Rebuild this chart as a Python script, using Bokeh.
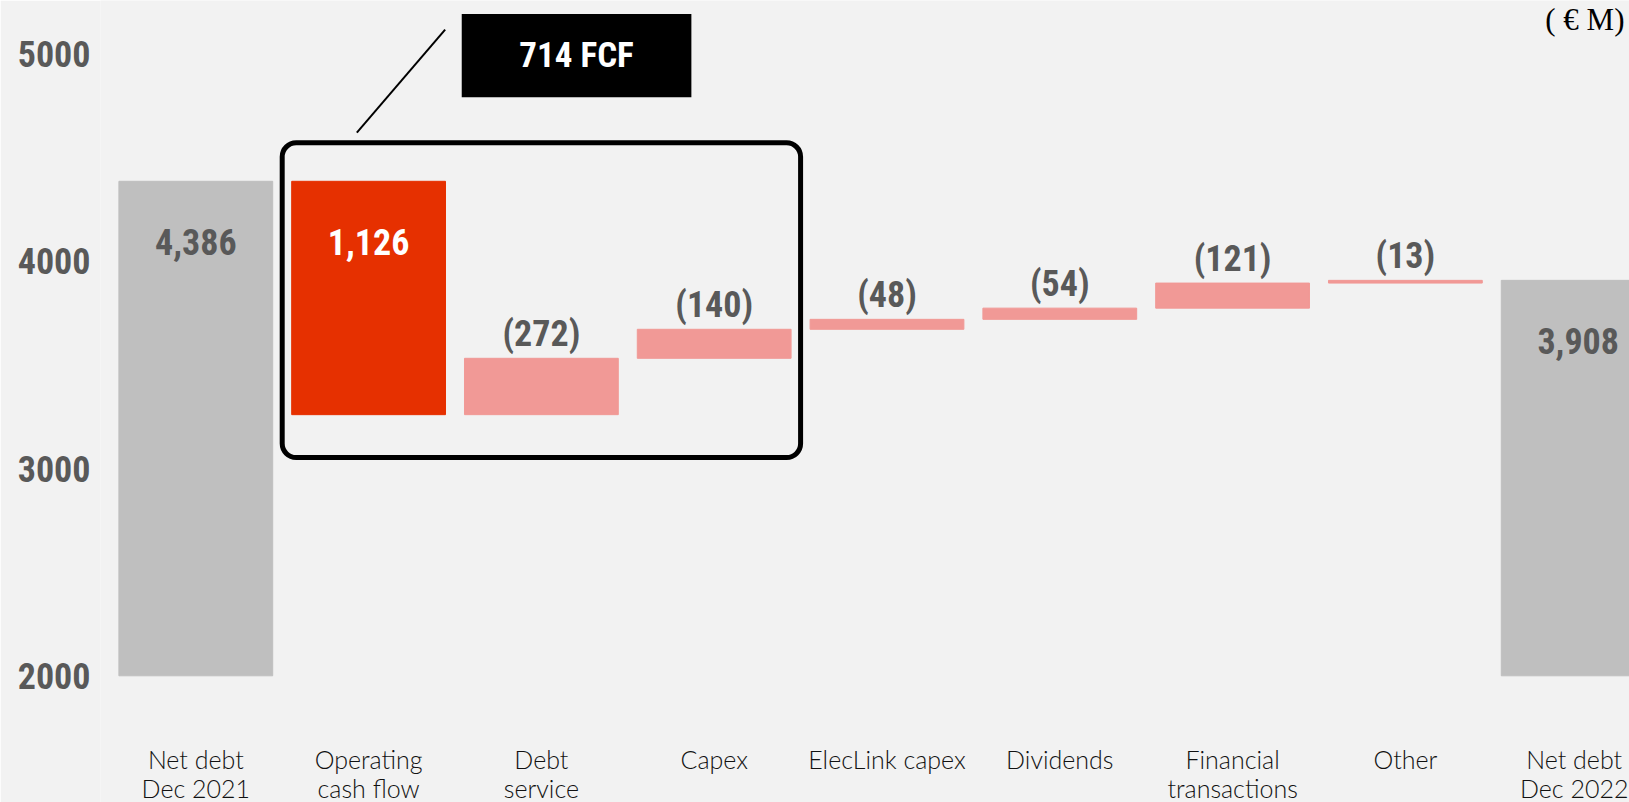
from bokeh.plotting import figure
from bokeh.models import Range1d, FixedTicker, BoxAnnotation, ColumnDataSource
from bokeh.core.properties import value
from bokeh.embed import file_html
from bokeh.resources import INLINE

# ---- data ----
categories = ["Net debt\nDec 2021", "Operating\ncash flow", "Debt\nservice", "Capex",
              "ElecLink capex", "Dividends", "Financial\ntransactions", "Other",
              "Net debt\nDec 2022"]
start_value = 4386
changes = [-1126, 272, 140, 48, 54, 121, 13]
end_value = 3908
value_labels = ["4,386", "1,126", "(272)", "(140)", "(48)", "(54)", "(121)", "(13)", "3,908"]
y_ticks = [2000, 3000, 4000, 5000]
base_value = 2000
fcf_label = "714 FCF"
unit_label = "( € M)"

# ---- styles ----
BG = "#f2f2f2"
GRAY = "#bfbfbf"
RED = "#e63000"
PINK = "#f19996"
LABEL_GRAY = "#595959"
BOLD_FONT = "'Roboto Condensed', Roboto"

W, H = 1629, 802
LEFT = 100
frame_h = H
y0, y1 = 1388.7, 5258.4
px_per_unit = frame_h / (y1 - y0)
CAT_LABEL_TOP_PX = 743


def px_to_y(py):
    return y0 + (frame_h - py) / px_per_unit


# ---- waterfall geometry from data ----
xs, bottoms, tops, colors, kinds = [], [], [], [], []
xs.append(0); bottoms.append(base_value); tops.append(start_value); colors.append(GRAY); kinds.append("total")
running = start_value
for i, ch in enumerate(changes):
    new = running + ch
    xs.append(i + 1)
    bottoms.append(min(running, new))
    tops.append(max(running, new))
    if ch < 0:
        colors.append(RED); kinds.append("inside")
    else:
        colors.append(PINK); kinds.append("above")
    running = new
xs.append(len(changes) + 1); bottoms.append(base_value); tops.append(end_value); colors.append(GRAY); kinds.append("total")

bar_src = ColumnDataSource(dict(x=xs, bottom=bottoms, top=tops, color=colors))

lab_y, lab_col = [], []
for k, t in zip(kinds, tops):
    if k == "above":
        lab_y.append(t + 24 / px_per_unit)
        lab_col.append(LABEL_GRAY)
    else:
        lab_y.append(t - 61 / px_per_unit)
        lab_col.append("#ffffff" if k == "inside" else LABEL_GRAY)
lab_src = ColumnDataSource(dict(x=xs, y=lab_y, text=value_labels, color=lab_col))

# keep the last category label inside the window edge
cat_dx = [0] * (len(xs) - 1) + [-4]
cat_src = ColumnDataSource(dict(x=xs, y=[px_to_y(CAT_LABEL_TOP_PX)] * len(xs),
                                text=categories, dx=cat_dx))

p = figure(width=W, height=H, output_backend="svg", toolbar_location=None,
           x_range=Range1d(-0.5515, 8.297), y_range=Range1d(y0, y1),
           min_border_left=LEFT, min_border_right=0, min_border_top=0,
           min_border_bottom=0, background_fill_color=BG,
           border_fill_color=BG, outline_line_color=None)
p.grid.visible = False

p.vbar(x="x", bottom="bottom", top="top", width=0.89, color="color", source=bar_src)

p.text(x="x", y="y", text="text", text_color="color", source=lab_src,
       text_font=value(BOLD_FONT), text_font_style="bold", text_font_size="36px",
       text_align="center", text_baseline="middle")

# category labels
p.text(x="x", y="y", text="text", source=cat_src, x_offset="dx",
       text_font=value("'Lato Light', Lato"), text_font_size="25px",
       text_line_height=0.98, text_color="#111111",
       text_align="center", text_baseline="top")

# FCF box
p.add_layout(BoxAnnotation(left=0.5, right=3.5, top=4572, bottom=3053,
                           fill_alpha=0, line_color="black", line_alpha=1, line_width=5,
                           border_radius=14))
p.segment(x0=[0.932], y0=[4621], x1=[1.443], y1=[5118], line_color="black", line_width=2)
p.quad(left=[1.539], right=[2.868], top=[5193], bottom=[4792],
       fill_color="black", line_color=None)
p.text(x=[2.2035], y=[4993], text=[fcf_label], text_color="white",
       text_font=value(BOLD_FONT), text_font_style="bold", text_font_size="35px",
       text_align="center", text_baseline="middle")
p.text(x=[8.268], y=[5165], text=[unit_label], text_color="black",
       text_font=value("Liberation Serif"), text_font_size="31px",
       text_align="right", text_baseline="middle")

# axes
p.yaxis.ticker = FixedTicker(ticks=y_ticks)
p.yaxis.major_label_overrides = {t: str(t) for t in y_ticks}
p.yaxis.axis_line_color = None
p.yaxis.major_tick_line_color = None
p.yaxis.minor_tick_line_color = None
p.yaxis.major_label_text_font = BOLD_FONT
p.yaxis.major_label_text_font_style = "bold"
p.yaxis.major_label_text_font_size = "36px"
p.yaxis.major_label_text_color = LABEL_GRAY
p.yaxis.major_label_standoff = 4

p.xaxis.visible = False

open("out.html", "w").write(file_html(p, INLINE))
